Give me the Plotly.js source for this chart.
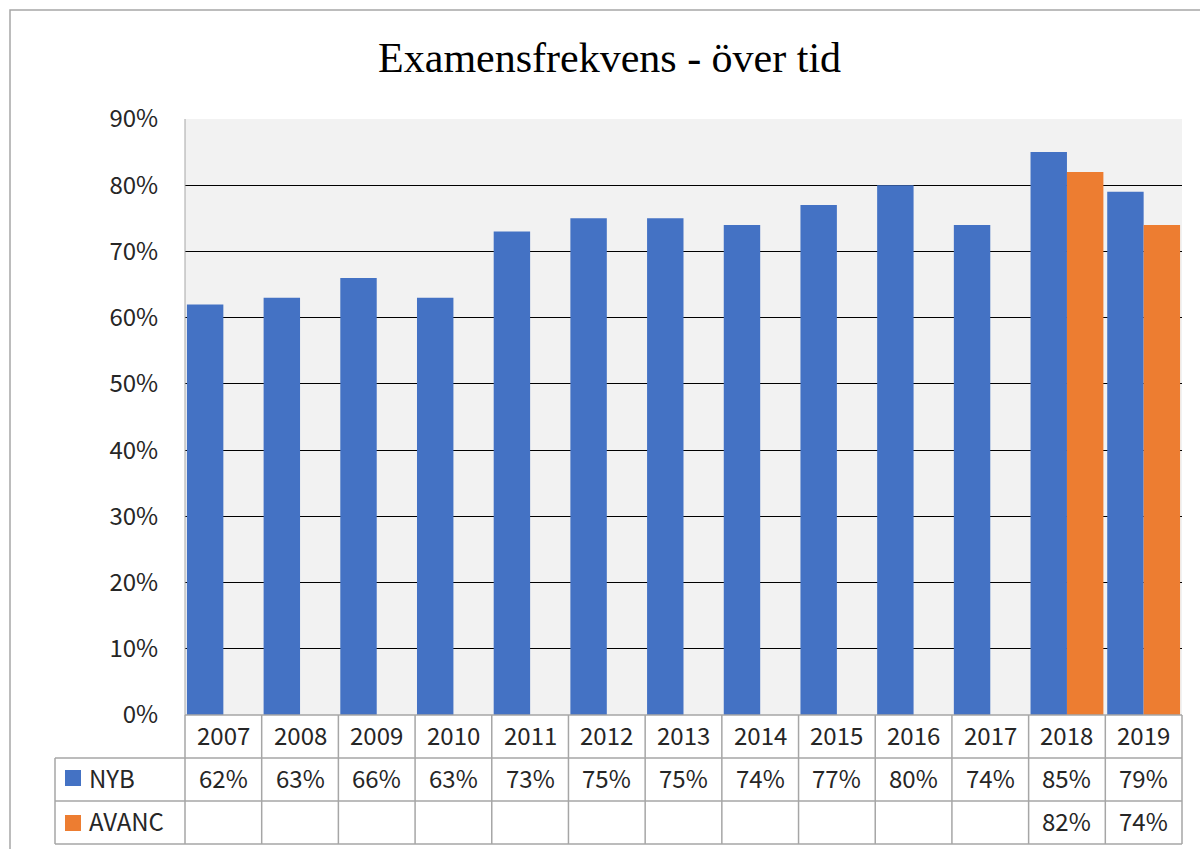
<!DOCTYPE html>
<html>
<head>
<meta charset="utf-8">
<script src="https://cdn.plot.ly/plotly-3.0.1.min.js"></script>
<style>
  body { margin: 0; background: #fff; }
  #chart { width: 1200px; height: 849px; }
</style>
</head>
<body>
<div id="chart"></div>
<script>
var years = ['2007', '2008', '2009', '2010', '2011', '2012', '2013',
  '2014', '2015', '2016', '2017', '2018', '2019'];

// examensfrekvens, share 0..1
var nyb = [0.62, 0.63, 0.66, 0.63, 0.73, 0.75, 0.75, 0.74, 0.77, 0.80, 0.74, 0.85, 0.79];
var avanc = [null, null, null, null, null, null, null, null, null, null, null, 0.82, 0.74];

var seriesNames = ['NYB', 'AVANC'];
var seriesColors = ['#4472c4', '#ed7d31'];

var tickFont = {family: 'Noto Sans CJK JP, Noto Sans, sans-serif', size: 24, color: '#262626'};
var lineGray = '#a6a6a6';

// pixel -> paper helpers (plot area 185..1182 x, 119..715 y)
function px(x) { return (x - 185) / 997; }
function py(y) { return (715 - y) / 596; }

var trace1 = {
  x: years,
  y: nyb,
  type: 'bar',
  name: seriesNames[0],
  hoverinfo: 'none',
  marker: {color: seriesColors[0]}
};

var trace2 = {
  x: years,
  y: avanc,
  type: 'bar',
  name: seriesNames[1],
  hoverinfo: 'none',
  marker: {color: seriesColors[1]}
};

var data = [trace1, trace2];

function pct(v) { return v == null ? '' : Math.round(v * 100) + '%'; }

// table cells: x as category index so year strings aren't read as numbers
var annotations = [];
var rowY = [py(734), py(777), py(820)];
years.forEach(function (yr, i) {
  annotations.push({x: i, xref: 'x', y: rowY[0], yref: 'paper', text: yr,
    showarrow: false, font: tickFont, yanchor: 'middle'});
  annotations.push({x: i, xref: 'x', y: rowY[1], yref: 'paper', text: pct(nyb[i]),
    showarrow: false, font: tickFont, yanchor: 'middle'});
  if (avanc[i] != null) {
    annotations.push({x: i, xref: 'x', y: rowY[2], yref: 'paper', text: pct(avanc[i]),
      showarrow: false, font: tickFont, yanchor: 'middle'});
  }
});
seriesNames.forEach(function (nm, k) {
  annotations.push({x: px(87), xref: 'paper', y: rowY[k + 1], yref: 'paper', text: nm,
    showarrow: false, font: tickFont, xanchor: 'left', yanchor: 'middle'});
});

var shapes = [];
var gl = {color: lineGray, width: 1.5};
// outer chart border
shapes.push({type: 'rect', xref: 'paper', yref: 'paper',
  x0: px(10), x1: px(1215), y0: py(860), y1: py(10), line: {color: lineGray, width: 1.5}});
// table horizontal lines
shapes.push({type: 'line', xref: 'paper', yref: 'paper', x0: 0, x1: 1, y0: 0, y1: 0, line: gl});
[758, 801, 844].forEach(function (yy) {
  shapes.push({type: 'line', xref: 'paper', yref: 'paper', x0: px(55), x1: 1,
    y0: py(yy), y1: py(yy), line: gl});
});
// table vertical lines
for (var i = 0; i <= years.length; i++) {
  shapes.push({type: 'line', xref: 'paper', yref: 'paper', x0: i / years.length, x1: i / years.length,
    y0: py(844), y1: 0, line: gl});
}
shapes.push({type: 'line', xref: 'paper', yref: 'paper', x0: px(55), x1: px(55),
  y0: py(844), y1: py(758), line: gl});
// plot area left edge
shapes.push({type: 'line', xref: 'paper', yref: 'paper', x0: 0, x1: 0, y0: 0, y1: 1,
  line: {color: lineGray, width: 1}});
// legend keys
seriesColors.forEach(function (c, k) {
  var cy = [778, 823][k];
  shapes.push({type: 'rect', xref: 'paper', yref: 'paper', x0: px(65), x1: px(81),
    y0: py(cy + 8), y1: py(cy - 8), fillcolor: c, line: {width: 0}});
});

var layout = {
  width: 1200,
  height: 849,
  margin: {l: 185, r: 18, t: 119, b: 134},
  paper_bgcolor: '#ffffff',
  plot_bgcolor: '#f2f2f2',
  title: {
    text: 'Examensfrekvens - över tid',
    font: {family: 'Liberation Serif, DejaVu Serif, serif', size: 42, color: '#000000'},
    x: 0.508, xanchor: 'center', y: 0.933, yanchor: 'middle'
  },
  barmode: 'group',
  bargap: 0.05,
  bargroupgap: 0,
  showlegend: false,
  xaxis: {
    type: 'category',
    range: [-0.5, years.length - 0.5],
    showticklabels: false,
    showgrid: false,
    zeroline: false,
    ticks: ''
  },
  yaxis: {
    range: [0, 0.9],
    dtick: 0.1,
    tickformat: '.0%',
    tickfont: tickFont,
    ticks: 'outside',
    ticklen: 21,
    tickcolor: 'rgba(0,0,0,0)',
    showgrid: true,
    gridcolor: '#000000',
    gridwidth: 1.2,
    zeroline: false,
    showline: false
  },
  annotations: annotations,
  shapes: shapes
};

Plotly.newPlot('chart', data, layout, {staticPlot: true});
</script>
</body>
</html>
